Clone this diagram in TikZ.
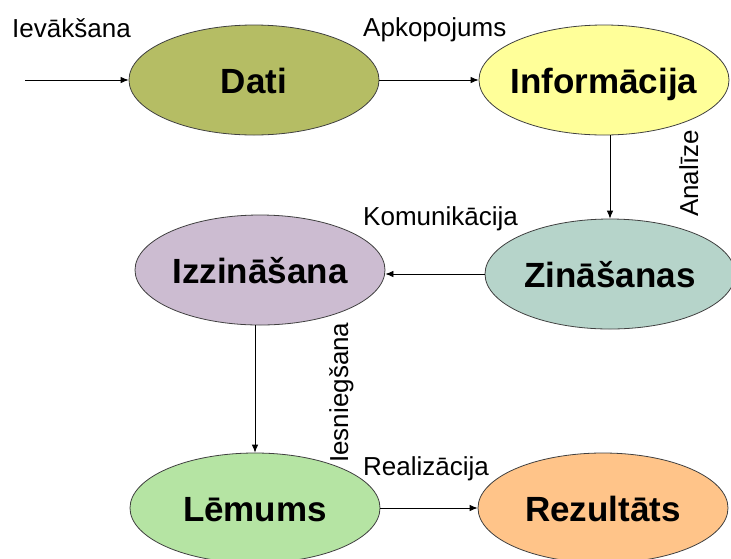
\documentclass[tikz,border=0pt]{standalone}
\usepackage{fontspec}
\setmainfont{Liberation Sans}
\usetikzlibrary{shapes.geometric,arrows.meta}

\definecolor{datic}{RGB}{181,189,100}
\definecolor{infoc}{RGB}{255,255,153}
\definecolor{zinc}{RGB}{182,212,202}
\definecolor{izzc}{RGB}{204,188,209}
\definecolor{lemc}{RGB}{181,228,163}
\definecolor{rezc}{RGB}{255,196,137}

\begin{document}
\begin{tikzpicture}[x=1pt,y=-1pt,
  blob/.style={ellipse, draw=black!75, line width=0.8pt, inner sep=0pt,
               minimum width=250pt, minimum height=110pt},
  title/.style={font=\fontsize{35}{35}\selectfont\bfseries,
                text height=26pt, text depth=0pt, inner sep=0pt},
  note/.style={font=\fontsize{26}{26}\selectfont, inner sep=0pt, anchor=base west},
  flow/.style={-{Latex[length=8pt,width=6.5pt]}, line width=0.8pt}]

  \useasboundingbox (0,0) rectangle (731,558);

  % stages
  \node[blob, fill=datic, label={[title]center:Dati}] (dati) at (254,80) {};
  \node[blob, fill=infoc, label={[title]center:Informācija}] (info) at (604,80) {};
  \node[blob, fill=zinc, label={[title]center:Zināšanas}] (zin) at (610,274) {};
  \node[blob, fill=izzc, label={[title]center:Izzināšana}] (izz) at (260,270) {};
  \node[blob, fill=lemc, label={[title]center:Lēmums}] (lem) at (255,508) {};
  \node[blob, fill=rezc, label={[title]center:Rezultāts}] (rez) at (603,508) {};

  % connectors
  \coordinate (entry) at (25,80);
  \draw[flow] (entry) -- (dati.west);
  \draw[flow] (dati.east) -- (info.west);
  \draw[flow] (zin.north |- info.south) -- (zin.north);
  \draw[flow] (zin.west) -- (zin.west -| izz.east);
  \draw[flow] (izz.south -| lem.north) -- (lem.north);
  \draw[flow] (lem.east) -- (rez.west);

  % step labels
  \node[note] (lIev) at (12,37) {Ievākšana};
  \node[note] (lApk) at (363,36) {Apkopojums};
  \node[note, rotate=90] (lAna) at (698,217) {Analīze};
  \node[note] (lKom) at (363,225) {Komunikācija};
  \node[note, rotate=90] (lIes) at (348,463) {Iesniegšana};
  \node[note] (lRea) at (363,475) {Realizācija};
\end{tikzpicture}
\end{document}
